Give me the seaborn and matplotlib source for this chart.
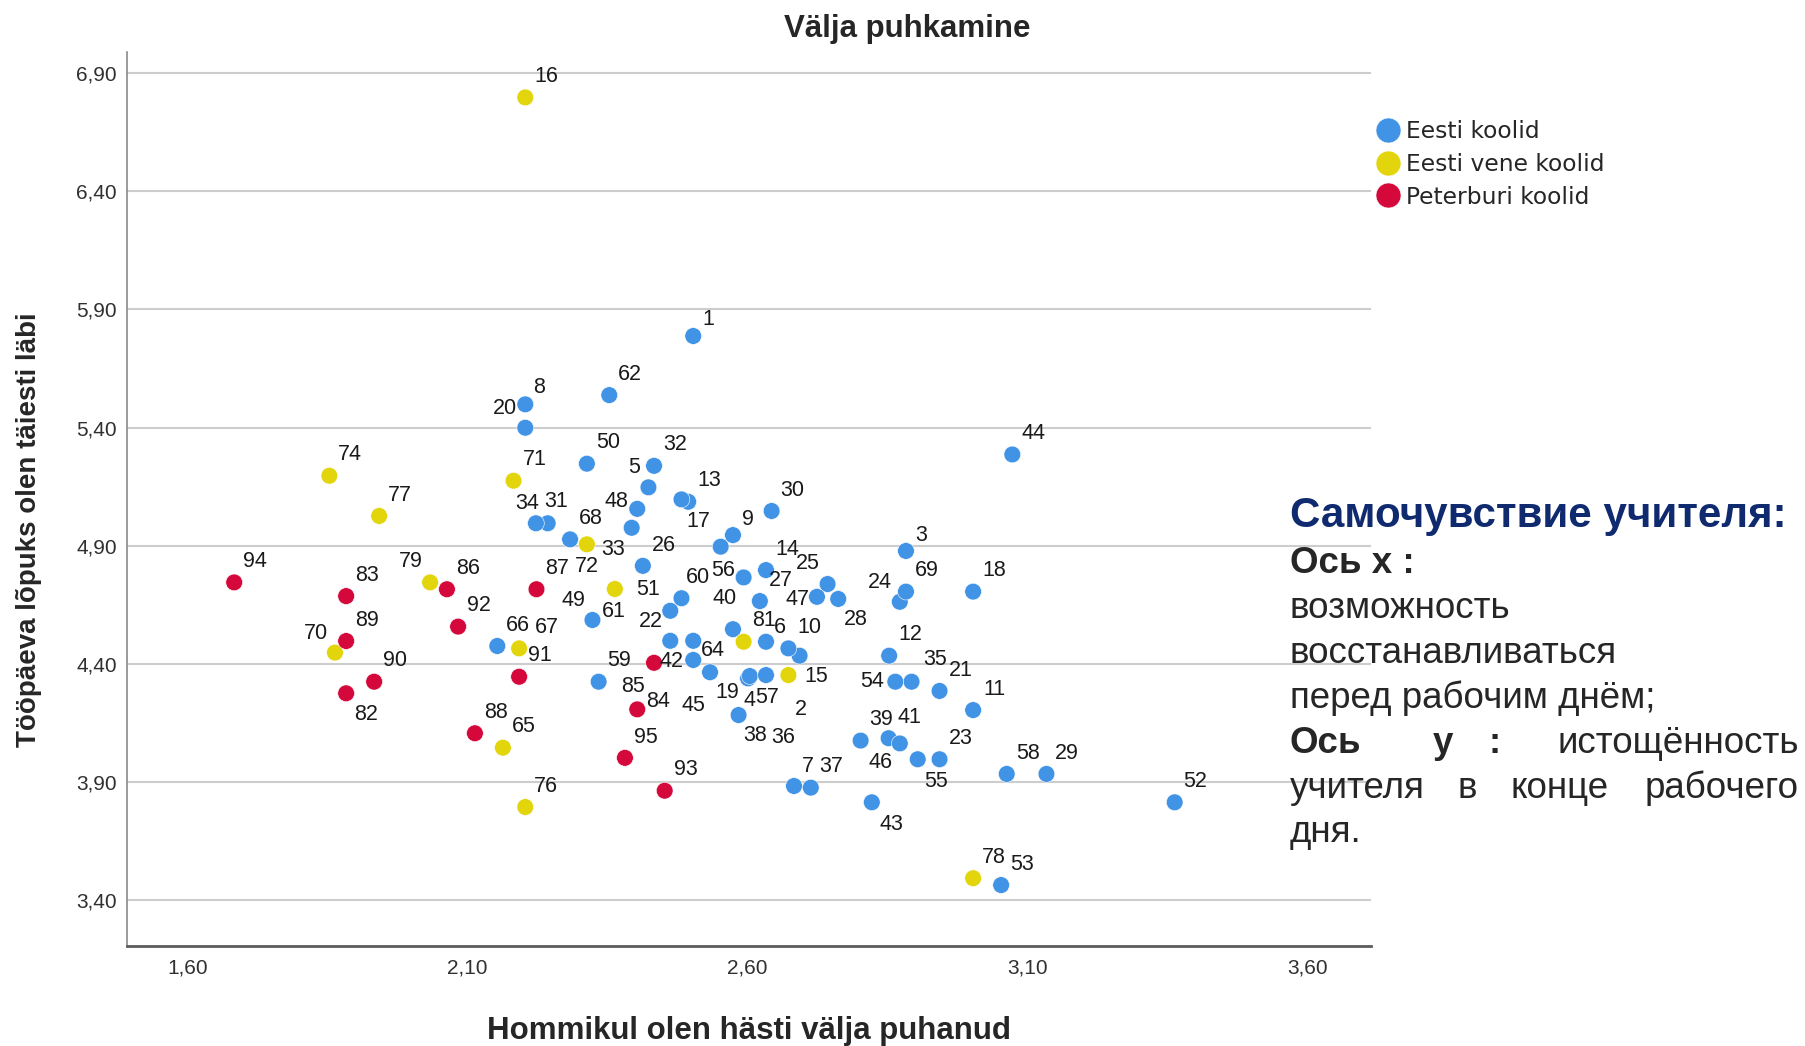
import numpy as np
import pandas as pd
import matplotlib
matplotlib.use("Agg")
import matplotlib.pyplot as plt
from matplotlib.lines import Line2D
from matplotlib.ticker import FixedLocator, FixedFormatter
import seaborn as sns

# ---------------- data ----------------
groups = ["Eesti koolid", "Eesti vene koolid", "Peterburi koolid"]
group_colors = ["#4193e5", "#e2d50c", "#d4083b"]

eesti_ids = [1, 2, 3, 4, 5, 6, 7, 8, 9, 10, 11, 12, 13, 14, 17, 18, 19, 20, 21, 22,
             23, 24, 25, 26, 27, 28, 29, 30, 31, 32, 34, 35, 36, 37, 38, 39, 40, 41, 42, 43,
             44, 45, 46, 47, 48, 49, 50, 51, 52, 53, 54, 55, 56, 57, 58, 59, 60, 61, 62, 64,
             66, 68, 69]
eesti_x = [2.503, 2.693, 2.883, 2.601, 2.423, 2.633, 2.683, 2.203, 2.574, 2.673,
           3.003, 2.853, 2.494, 2.633, 2.482, 3.003, 2.584, 2.203, 2.943, 2.462,
           2.943, 2.872, 2.743, 2.413, 2.622, 2.762, 3.134, 2.643, 2.243, 2.433,
           2.222, 2.893, 2.604, 2.713, 2.552, 2.802, 2.574, 2.852, 2.503, 2.822,
           3.073, 2.533, 2.872, 2.724, 2.403, 2.323, 2.313, 2.462, 3.363, 3.053,
           2.864, 2.904, 2.593, 2.633, 3.063, 2.334, 2.482, 2.393, 2.353, 2.503,
           2.153, 2.283, 2.883]
eesti_y = [5.787, 4.435, 4.878, 4.339, 5.147, 4.494, 3.884, 5.498, 4.945, 4.466,
           4.205, 4.435, 5.086, 4.797, 5.096, 4.706, 4.184, 5.399, 4.286, 4.498,
           3.997, 4.663, 4.738, 4.815, 4.666, 4.675, 3.935, 5.047, 4.995, 5.238,
           4.995, 4.325, 4.349, 3.877, 4.896, 4.076, 4.547, 4.086, 4.417, 3.815,
           5.286, 4.365, 4.064, 4.684, 5.056, 4.586, 5.247, 4.625, 3.815, 3.465,
           4.325, 3.997, 4.766, 4.353, 3.935, 4.325, 4.678, 4.976, 5.537, 4.498,
           4.476, 4.927, 4.706]

vene_ids = [15, 16, 33, 65, 67, 70, 71, 72, 74, 76, 77, 78, 79, 81]
vene_x = [2.673, 2.203, 2.313, 2.163, 2.192, 1.863, 2.182, 2.363, 1.853, 2.203,
          1.942, 3.003, 2.033, 2.593]
vene_y = [4.353, 6.796, 4.906, 4.046, 4.466, 4.448, 5.175, 4.717, 5.196, 3.795,
          5.026, 3.494, 4.745, 4.494]

peterburi_ids = [82, 83, 84, 85, 86, 87, 88, 89, 90, 91, 92, 93, 94, 95]
peterburi_x = [1.883, 1.883, 2.403, 2.433, 2.063, 2.223, 2.113, 1.883, 1.933, 2.192,
               2.083, 2.452, 1.683, 2.381]
peterburi_y = [4.276, 4.687, 4.208, 4.405, 4.716, 4.716, 4.107, 4.497, 4.325, 4.346,
               4.558, 3.864, 4.745, 4.003]

x_ticks = [1.60, 2.10, 2.60, 3.10, 3.60]
x_tick_labels = ["1,60", "2,10", "2,60", "3,10", "3,60"]
y_ticks = [3.40, 3.90, 4.40, 4.90, 5.40, 5.90, 6.40, 6.90]
y_tick_labels = ["3,40", "3,90", "4,40", "4,90", "5,40", "5,90", "6,40", "6,90"]

title = "Välja puhkamine"
x_label = "Hommikul olen hästi välja puhanud"
y_label = "Tööpäeva lõpuks olen täiesti läbi"

# label placement (offset of label centre from its point, in points)
label_offsets = {
    5: (-10, 14), 34: (-6, 14), 31: (6, 16), 48: (-15, 5), 33: (19, -4), 79: (-14, 15),
    72: (-20, 16), 51: (-16, 15), 60: (12, 15), 49: (-14, 14), 61: (-13, -60),
    22: (-14, 14), 70: (-14, 14), 67: (20, 15), 82: (14, -15), 85: (-15, -17),
    84: (15, 6), 17: (12, -16), 9: (11, 11), 56: (-15, 5), 47: (-14, -2),
    25: (-14, 15), 28: (13, -15), 40: (-6, 22), 6: (10, 10), 24: (-14, 14),
    54: (-17, 0), 35: (17, 16), 46: (-14, -14), 55: (13, -16), 43: (14, -16),
    15: (20, -1), 20: (-15, 14), 64: (14, -7), 42: (-16, -1), 45: (-12, -24),
    4: (1, -16), 36: (24, -44), 57: (1, -16), 19: (-8, 16), 38: (25, -136),
    2: (1, -39), 8: (10, 12), 3: (11, 11), 7: (10, 14), 1: (11, 12),
}

# ---------------- build frame ----------------
df = pd.concat([
    pd.DataFrame({"id": eesti_ids, "x": eesti_x, "y": eesti_y, "group": groups[0]}),
    pd.DataFrame({"id": vene_ids, "x": vene_x, "y": vene_y, "group": groups[1]}),
    pd.DataFrame({"id": peterburi_ids, "x": peterburi_x, "y": peterburi_y, "group": groups[2]}),
], ignore_index=True)

sns.set_style("white")
plt.rcParams["font.family"] = ["Liberation Sans", "DejaVu Sans"]

W, H = 1806, 1046
fig = plt.figure(figsize=(W / 100, H / 100), dpi=100)


def fx(px):
    return px / W


def fy(py):
    return 1 - py / H


ax_l, ax_r, ax_t, ax_b = 126.7, 1370.6, 52.0, 945.6
ax = fig.add_axes([fx(ax_l), fy(ax_b), (ax_r - ax_l) / W, (ax_b - ax_t) / H])

palette = dict(zip(groups, group_colors))
sns.scatterplot(data=df, x="x", y="y", hue="group", hue_order=groups, palette=palette,
                s=145, edgecolor="white", linewidth=0.4, legend=False, ax=ax, zorder=3)

ax.set_xlim(1.491, 3.713)
ax.set_ylim(3.209, 6.988)
ax.xaxis.set_major_locator(FixedLocator(x_ticks))
ax.xaxis.set_major_formatter(FixedFormatter(x_tick_labels))
ax.yaxis.set_major_locator(FixedLocator(y_ticks))
ax.yaxis.set_major_formatter(FixedFormatter(y_tick_labels))
ax.tick_params(axis="both", length=0, labelsize=15, labelcolor="#303030")
ax.tick_params(axis="x", pad=9)
ax.tick_params(axis="y", pad=7)
ax.set_xlabel("")
ax.set_ylabel("")

ax.grid(False)
ax.yaxis.grid(True, color="#cdcdcd", linewidth=1.5)
ax.set_axisbelow(True)
for s in ["top", "right"]:
    ax.spines[s].set_visible(False)
ax.spines["left"].set_color("#8a8a8a")
ax.spines["left"].set_linewidth(1.2)
ax.spines["bottom"].set_color("#5c5c5c")
ax.spines["bottom"].set_linewidth(2.0)

# point labels
for _, r in df.iterrows():
    pid = int(r["id"])
    default = (11, 12) if pid < 10 else (15, 15)
    off = label_offsets.get(pid, default)
    ax.annotate(str(pid), (r["x"], r["y"]), xytext=off, textcoords="offset points",
                ha="center", va="center", fontsize=15.5, color="#1a1a1a", zorder=4)

# titles
fig.text(fx(907), fy(28.5), title, ha="center", va="center", fontsize=22.5, fontweight="bold")
fig.text(fx((ax_l + ax_r) / 2), fy(1031), x_label, ha="center", va="center",
         fontsize=22.5, fontweight="bold")
fig.text(fx(29), fy(530), y_label, ha="center", va="center", rotation=90,
         fontsize=20, fontweight="bold")

# legend
handles = [Line2D([0], [0], marker="o", linestyle="", markersize=18,
                  markerfacecolor=c, markeredgecolor="white", markeredgewidth=0.4)
           for c in group_colors]
ax.legend(handles=handles, labels=groups, loc="upper left",
          bbox_to_anchor=(fx(1376.5), fy(120)), bbox_transform=fig.transFigure,
          frameon=False, handlelength=1.0, handletextpad=0.25, labelspacing=0.42,
          borderpad=0, borderaxespad=0, prop={"family": "DejaVu Sans", "size": 16.8})

# right-hand annotation (Russian)
tx0, tx1 = 1290, 1799
navy = "#0f2a6e"
body = 26.5
fig.text(fx(tx0), fy(527), "Самочувствие учителя:", ha="left", va="baseline",
         fontsize=30.3, fontweight="bold", color=navy)
fig.text(fx(tx0), fy(573), "Ось x :", ha="left", va="baseline", fontsize=body, fontweight="bold")
fig.text(fx(tx0), fy(618), "возможность", ha="left", va="baseline", fontsize=body)
fig.text(fx(tx0), fy(663), "восстанавливаться", ha="left", va="baseline", fontsize=body)
fig.text(fx(tx0), fy(708), "перед рабочим днём;", ha="left", va="baseline", fontsize=body)
# justified line: "Ось y : истощённость"
fig.text(fx(tx0), fy(753), "Ось", ha="left", va="baseline", fontsize=body, fontweight="bold")
fig.text(fx(1443), fy(753), "y", ha="center", va="baseline", fontsize=body, fontweight="bold")
fig.text(fx(1495), fy(753), ":", ha="center", va="baseline", fontsize=body, fontweight="bold")
fig.text(fx(tx1), fy(753), "истощённость", ha="right", va="baseline", fontsize=body)
# justified line: "учителя в конце рабочего"
fig.text(fx(tx0), fy(798), "учителя", ha="left", va="baseline", fontsize=body)
fig.text(fx(1467), fy(798), "в", ha="center", va="baseline", fontsize=body)
fig.text(fx(1560), fy(798), "конце", ha="center", va="baseline", fontsize=body)
fig.text(fx(tx1), fy(798), "рабочего", ha="right", va="baseline", fontsize=body)
fig.text(fx(tx0), fy(842), "дня.", ha="left", va="baseline", fontsize=body)

fig.savefig("out.png", dpi=100)
